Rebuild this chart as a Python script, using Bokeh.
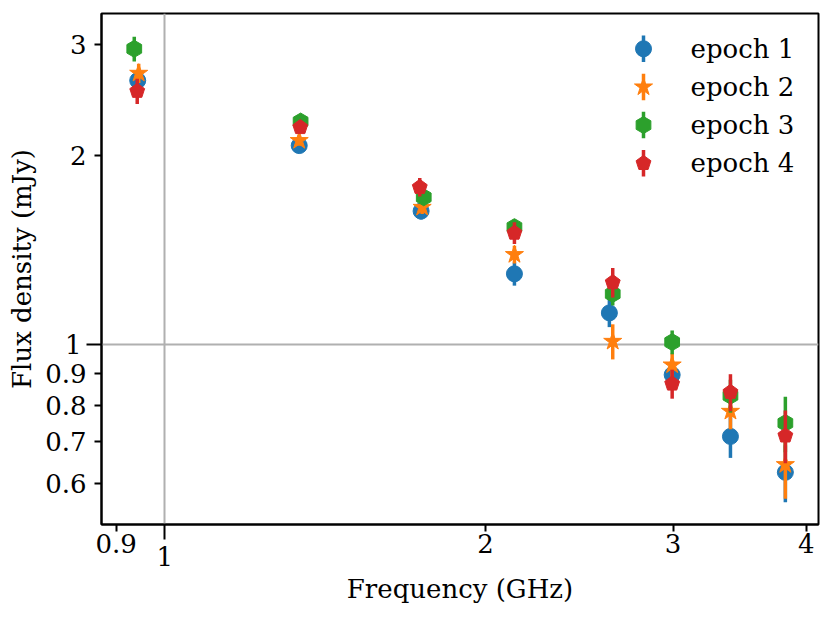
import numpy as np
from bokeh.plotting import figure
from bokeh.models import FixedTicker, Range1d, BasicTickFormatter, LogAxis
from bokeh.embed import file_html
from bokeh.resources import INLINE
from bokeh.core.properties import value

# ---------------- data ----------------
labels = ["epoch 1", "epoch 2", "epoch 3", "epoch 4"]
colors = ["#1f77b4", "#ff7f0e", "#2ca02c", "#d62728"]

freq_e1 = [0.943, 1.337, 1.740, 2.129, 2.614, 2.994, 3.396, 3.824]
flux_e1 = [2.633, 2.074, 1.631, 1.296, 1.123, 0.895, 0.714, 0.626]
err_e1 = [0.10, 0.045, 0.05, 0.055, 0.057, 0.045, 0.054, 0.065]

freq_e2 = [0.945, 1.337, 1.744, 2.129, 2.633, 2.994, 3.396, 3.824]
flux_e2 = [2.704, 2.113, 1.654, 1.391, 1.012, 0.928, 0.783, 0.644]
err_e2 = [0.095, 0.04, 0.04, 0.045, 0.065, 0.04, 0.05, 0.076]

freq_e3 = [0.936, 1.341, 1.750, 2.129, 2.633, 2.994, 3.396, 3.824]
flux_e3 = [2.957, 2.265, 1.716, 1.538, 1.204, 1.009, 0.829, 0.750]
err_e3 = [0.135, 0.04, 0.04, 0.044, 0.05, 0.044, 0.05, 0.076]

freq_e4 = [0.942, 1.340, 1.735, 2.129, 2.633, 2.994, 3.396, 3.824]
flux_e4 = [2.533, 2.218, 1.781, 1.506, 1.256, 0.866, 0.840, 0.716]
err_e4 = [0.117, 0.04, 0.06, 0.06, 0.068, 0.046, 0.057, 0.069]

x_major = [1]
x_minor = [0.9, 2, 3, 4]
x_minor_labels = ["0.9", "2", "3", "4"]
y_major = [1]
y_minor = [0.6, 0.7, 0.8, 0.9, 2, 3]
y_minor_labels = ["0.6", "0.7", "0.8", "0.9", "2", "3"]

X_START, X_END = 0.872, 4.108
Y_START, Y_END = 0.517, 3.366

# ---------------- figure ----------------
FONT = "DejaVu Serif"
FS = "26px"
FRAME_W, FRAME_H = 717, 511

p = figure(x_axis_type="log", y_axis_type="log",
           x_range=Range1d(X_START, X_END), y_range=Range1d(Y_START, Y_END),
           frame_width=FRAME_W, frame_height=FRAME_H,
           min_border_left=101, min_border_right=13, min_border_top=13, min_border_bottom=94,
           output_backend="svg", toolbar_location=None,
           background_fill_color="white", border_fill_color="white")

p.outline_line_color = "black"
p.outline_line_width = 2
p.outline_line_alpha = 1

# inner axes: long major tick at 1 (labelled), short minor ticks
xt = FixedTicker(ticks=x_major, minor_ticks=x_minor)
yt = FixedTicker(ticks=y_major, minor_ticks=y_minor)
p.xaxis.ticker = xt
p.yaxis.ticker = yt
p.xgrid.ticker = xt
p.ygrid.ticker = yt


def style_text(ax):
    ax.major_label_text_font = FONT
    ax.major_label_text_font_size = FS
    ax.major_label_text_color = "black"
    ax.axis_label_text_font = FONT
    ax.axis_label_text_font_size = FS
    ax.axis_label_text_font_style = "normal"
    ax.axis_label_text_color = "black"


for ax in (p.xaxis, p.yaxis):
    ax.formatter = BasicTickFormatter()
    ax.major_label_overrides = {1: "1"}
    ax.axis_line_color = "black"
    ax.axis_line_width = 2
    ax.major_tick_in = 0
    ax.major_tick_out = 15
    ax.minor_tick_in = 0
    ax.minor_tick_out = 7
    ax.major_tick_line_width = 2
    ax.minor_tick_line_width = 2
    ax.major_tick_line_color = "black"
    ax.minor_tick_line_color = "black"
    style_text(ax)
p.xaxis.major_label_standoff = 7
p.yaxis.major_label_standoff = 5

for g in (p.xgrid, p.ygrid):
    g.grid_line_color = "#b0b0b0"
    g.grid_line_width = 2

# outer axes: labels of the minor ticks (pulled back next to their short ticks)
xb = LogAxis(ticker=FixedTicker(ticks=x_minor), formatter=BasicTickFormatter(),
             major_label_overrides=dict(zip(x_minor, x_minor_labels)),
             axis_label="Frequency (GHz)")
yb = LogAxis(ticker=FixedTicker(ticks=y_minor), formatter=BasicTickFormatter(),
             major_label_overrides=dict(zip(y_minor, y_minor_labels)),
             axis_label="Flux density (mJy)")
for ax in (xb, yb):
    ax.axis_line_color = None
    ax.major_tick_line_color = None
    ax.minor_tick_line_color = None
    ax.major_tick_in = 0
    ax.major_tick_out = 0
    ax.minor_tick_in = 0
    ax.minor_tick_out = 0
    style_text(ax)
xb.major_label_standoff = -35
xb.axis_label_standoff = 18
yb.major_label_standoff = -25
yb.axis_label_standoff = 5
p.add_layout(xb, "below")
p.add_layout(yb, "left")

# ---------------- series ----------------
series = [(freq_e1, flux_e1, err_e1), (freq_e2, flux_e2, err_e2),
          (freq_e3, flux_e3, err_e3), (freq_e4, flux_e4, err_e4)]


def draw_marker(i, x, y, c):
    if i == 0:
        p.scatter(x=x, y=y, marker="circle", size=16, fill_color=c, line_color=c, line_width=1)
    elif i == 1:
        p.scatter(x=x, y=y, marker="star", size=19, fill_color=c, line_color=c, line_width=1)
    elif i == 2:
        p.scatter(x=x, y=y, marker="hex", angle=np.pi / 2, size=17, fill_color=c,
                  line_color=c, line_width=1)
    else:
        p.ngon(x=x, y=y, radius=7.8, radius_units="screen", n=5, fill_color=c,
               line_color=c, line_width=1)


for i, (f, s, e) in enumerate(series):
    f = np.array(f)
    s = np.array(s)
    e = np.array(e)
    c = colors[i]
    p.segment(x0=f, y0=s - e, x1=f, y1=s + e, line_color=c, line_width=3.5)
    draw_marker(i, f, s, c)

# ---------------- legend (marker with error bar, like the original) ----------------
lx0, lx1 = np.log10(X_START), np.log10(X_END)
ly0, ly1 = np.log10(Y_START), np.log10(Y_END)


def fx(px):
    return 10 ** (lx0 + px / FRAME_W * (lx1 - lx0))


def fy(py):
    return 10 ** (ly1 - py / FRAME_H * (ly1 - ly0))


leg_mx = 542
leg_tx = 589
leg_rows = [35.3 + 38.13 * k for k in range(4)]
for i, lab in enumerate(labels):
    c = colors[i]
    py = leg_rows[i]
    p.segment(x0=[fx(leg_mx)], y0=[fy(py + 13.3)], x1=[fx(leg_mx)], y1=[fy(py - 13.3)],
              line_color=c, line_width=3.5)
    draw_marker(i, [fx(leg_mx)], [fy(py)], c)
    p.text(x=[fx(leg_tx)], y=[fy(py)], text=[lab], text_align="left", text_baseline="middle",
           text_font=value(FONT), text_font_size=value(FS), text_color="black")

open("out.html", "w").write(file_html(p, INLINE))
